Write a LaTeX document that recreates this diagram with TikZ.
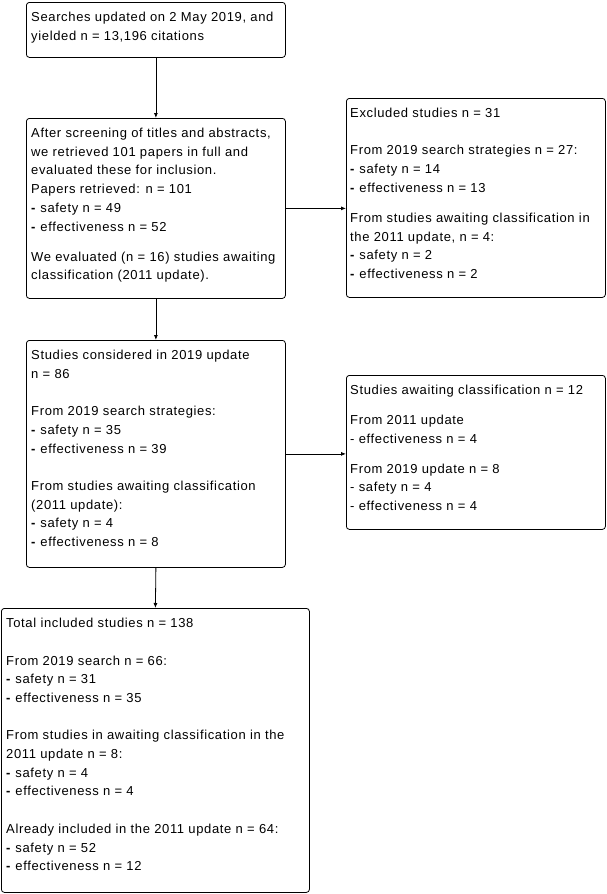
\documentclass[tikz,border=0pt]{standalone}
\usepackage{fontspec}
\setmainfont[LetterSpace=5]{Liberation Sans}
\usetikzlibrary{arrows.meta}
\begin{document}
\begin{tikzpicture}[x=1pt,y=-1pt,
  box/.style={draw, line width=0.8pt, rounded corners=3pt, anchor=north west, inner sep=0pt},
  txt/.style={anchor=north west, inner sep=0pt, align=left, font=\fontsize{13}{18.7}\selectfont},
  arr/.style={draw, line width=0.8pt, -{Latex[length=5pt,width=4pt]}}]
\useasboundingbox (0,0) rectangle (606,894);
% boxes
\node[box, minimum width=259pt, minimum height=55pt]  (b1) at (26,2) {};
\node[box, minimum width=259pt, minimum height=180pt] (b2) at (26,118) {};
\node[box, minimum width=259pt, minimum height=199pt] (ex) at (346,98) {};
\node[box, minimum width=259pt, minimum height=227pt] (b3) at (26,340) {};
\node[box, minimum width=259pt, minimum height=154pt] (aw) at (346,375) {};
\node[box, minimum width=308pt, minimum height=284pt] (tot) at (1,608) {};
% texts
\node[txt] (t1) at ([xshift=5pt,yshift=-6.3pt]b1.north west)
  {\strut Searches updated on 2 May 2019, and\\ yielded n = 13,196 citations};
\node[txt] (t2) at ([xshift=5pt,yshift=-6.3pt]b2.north west)
  {\strut After screening of titles and abstracts,\\ we retrieved 101 papers in full and\\ evaluated these for inclusion.\\ Papers retrieved: n = 101\\ \textbf{-} safety n = 49\\ \textbf{-} effectiveness n = 52\\[11.3pt] We evaluated (n = 16) studies awaiting\\ classification (2011 update).};
\node[txt] (tex) at ([xshift=4pt,yshift=-6.3pt]ex.north west)
  {\strut Excluded studies n = 31\\[18.7pt] From 2019 search strategies n = 27:\\ \textbf{-} safety n = 14\\ \textbf{-} effectiveness n = 13\\[11.3pt] From studies awaiting classification in\\ the 2011 update, n = 4:\\ \textbf{-} safety n = 2\\ \textbf{-} effectiveness n = 2};
\node[txt] (t3) at ([xshift=5pt,yshift=-6.3pt]b3.north west)
  {\strut Studies considered in 2019 update\\ n = 86\\[18.7pt] From 2019 search strategies:\\ \textbf{-} safety n = 35\\ \textbf{-} effectiveness n = 39\\[18.7pt] From studies awaiting classification\\ (2011 update):\\ \textbf{-} safety n = 4\\ \textbf{-} effectiveness n = 8};
\node[txt] (taw) at ([xshift=4pt,yshift=-6.3pt]aw.north west)
  {\strut Studies awaiting classification n = 12\\[11.3pt] From 2011 update\\ - effectiveness n = 4\\[11.3pt] From 2019 update n = 8\\ - safety n = 4\\ - effectiveness n = 4};
\node[txt] (ttot) at ([xshift=5pt,yshift=-6.3pt]tot.north west)
  {\strut Total included studies n = 138\\[18.7pt] From 2019 search n = 66:\\ \textbf{-} safety n = 31\\ \textbf{-} effectiveness n = 35\\[18.7pt] From studies in awaiting classification in the\\ 2011 update n = 8:\\ \textbf{-} safety n = 4\\ \textbf{-} effectiveness n = 4\\[18.7pt] Already included in the 2011 update n = 64:\\ \textbf{-} safety n = 52\\ \textbf{-} effectiveness n = 12};
% connectors
\draw[arr] (b1.south) -- (b2.north);
\draw[arr] (b2.east) -- (b2.east -| ex.west);
\draw[arr] (b2.south) -- (b3.north);
\draw[arr] (b3.east) -- (b3.east -| aw.west);
\draw[arr] (b3.south) -- (tot.north);
\end{tikzpicture}
\end{document}
